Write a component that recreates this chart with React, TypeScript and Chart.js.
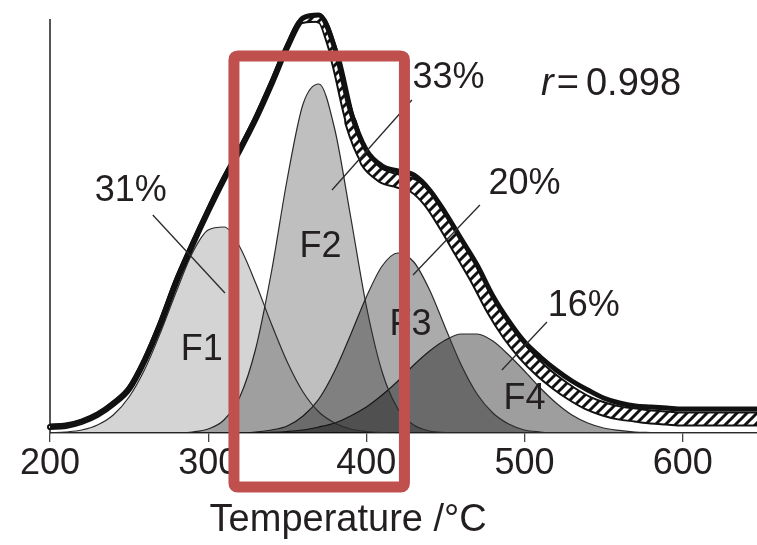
import React, { useEffect, useRef } from 'react';
import { Chart, registerables } from 'chart.js';

Chart.register(...registerables);

// Temperature grid (°C)
const TEMPS = [200, 210, 220, 230, 240, 250, 260, 270, 280, 290, 300, 310, 320, 330, 340, 350, 360, 370, 380, 390, 400, 410, 420, 430, 440, 450, 460, 470, 480, 490, 500, 510, 520, 530, 540, 550, 560, 570, 580, 590, 600, 610, 620, 630, 640, 650];

// Measured thermogram (thick solid line), arbitrary units
const MEASURED = [7, 8, 12, 19, 30, 45, 74, 111, 153, 189, 223, 255, 284, 315, 350, 387, 415, 418, 385, 322, 283, 267, 262, 258, 243, 220, 194, 168, 137, 112, 91, 76, 63, 52, 43, 35, 30, 27, 26, 25, 24, 24, 24, 24, 24, 24];

// Fitted sum (hatched band)
const FITTED = [6, 7, 11, 18, 29, 44, 73, 110, 152, 188, 222, 254, 283, 314, 349, 386, 413, 414, 377, 311, 272, 257, 252, 247, 232, 208, 181, 154, 124, 99, 79, 63, 50, 39, 30, 24, 20, 18, 16, 15, 14, 14, 14, 14, 14, 14];

// Deconvoluted fractions
const F1 = [0, 1, 3, 8, 18, 36, 64, 101, 142, 180, 203, 206, 186, 150, 109, 71, 41, 21, 10, 4, 1.5, 0.5, 0, 0, 0, 0, 0, 0, 0, 0, 0, 0, 0, 0, 0, 0, 0, 0, 0, 0, 0, 0, 0, 0, 0, 0];
const F2 = [0, 0, 0, 0, 0, 0, 0, 0, 0, 1, 4, 13, 36, 84, 161, 254, 329, 349, 304, 217, 127, 61, 24, 8, 2, 0.5, 0, 0, 0, 0, 0, 0, 0, 0, 0, 0, 0, 0, 0, 0, 0, 0, 0, 0, 0, 0];
const F3 = [0, 0, 0, 0, 0, 0, 0, 0, 0, 0, 0, 0, 0, 1, 3, 7, 17, 34, 62, 98, 136, 167, 180, 171, 143, 105, 68, 39, 20, 9, 3, 1, 0, 0, 0, 0, 0, 0, 0, 0, 0, 0, 0, 0, 0, 0];
const F4 = [0, 0, 0, 0, 0, 0, 0, 0, 0, 0, 0, 0, 0, 0.3, 0.7, 1.5, 3, 6, 10, 17, 26, 38, 52, 68, 82, 93, 99, 99, 92, 78, 62, 45, 30, 18, 10, 5, 2.6, 1, 0.5, 0, 0, 0, 0, 0, 0, 0];

const X_TICKS = [200, 300, 400, 500, 600];
const FRACTION_NAMES = ['F1', 'F2', 'F3', 'F4'];
const FRACTION_SHARES = ['31%', '33%', '20%', '16%'];
const R_VALUE = '0.998';
const X_TITLE = 'Temperature /°C';

// annotation anchors in data coordinates (T, intensity)
const NAME_POS = [[296, 83], [371, 186], [428, 108], [500, 34]];
const SHARE_POS = [[251, 242], [452, 355], [500, 249], [537.5, 127]];
const LEADERS = [[265, 218, 310.6, 140], [428.8, 333, 378.3, 243], [471.8, 228, 429.5, 158], [514.2, 111, 485.7, 63]];
const R_POS = [510.5, 338];
const TITLE_T = 388.5;
const HIGHLIGHT = [316.3, 424.1, 377, -54];

const FONT = '"Liberation Sans", Arial, Helvetica, sans-serif';
const TEXT = '#231f20';

function toPoints(vals: number[]) {
  return TEMPS.map((t, i) => ({ x: t, y: vals[i] }));
}

function makeHatch(): CanvasPattern | string {
  const c = document.createElement('canvas');
  c.width = 10;
  c.height = 10;
  const g = c.getContext('2d');
  if (!g) return '#fff';
  g.fillStyle = '#fff';
  g.fillRect(0, 0, 10, 10);
  g.strokeStyle = '#111';
  g.lineWidth = 3;
  g.beginPath();
  g.moveTo(-5, 5); g.lineTo(5, -5);
  g.moveTo(0, 10); g.lineTo(10, 0);
  g.moveTo(5, 15); g.lineTo(15, 5);
  g.stroke();
  const p = g.createPattern(c, 'repeat');
  return p || '#fff';
}

function bandWidth(t: number, extra: number) {
  const w = 6 + Math.max(0, Math.min(9, (t - 350) / 6));
  return Math.max(1, w - extra);
}

const annotationPlugin = {
  id: 'annotations',
  afterDatasetsDraw(chart: any) {
    const { ctx, scales } = chart;
    const xs = scales.x, ys = scales.y;
    const px = (t: number) => xs.getPixelForValue(t);
    const py = (v: number) => ys.getPixelForValue(v);
    ctx.save();
    // leader lines
    ctx.strokeStyle = '#2a2a2a';
    ctx.lineWidth = 1.3;
    LEADERS.forEach(([t0, v0, t1, v1]) => {
      ctx.beginPath();
      ctx.moveTo(px(t0), py(v0));
      ctx.lineTo(px(t1), py(v1));
      ctx.stroke();
    });
    ctx.fillStyle = TEXT;
    ctx.textAlign = 'center';
    ctx.textBaseline = 'middle';
    ctx.font = `36px ${FONT}`;
    FRACTION_NAMES.forEach((s, i) => {
      ctx.fillText(s, px(NAME_POS[i][0]), py(NAME_POS[i][1]));
    });
    FRACTION_SHARES.forEach((s, i) => {
      ctx.fillText(s, px(SHARE_POS[i][0]), py(SHARE_POS[i][1]));
    });
    // r = value
    ctx.textAlign = 'left';
    ctx.textBaseline = 'alphabetic';
    let x = px(R_POS[0]);
    const y = py(R_POS[1]);
    ctx.font = `italic 38px ${FONT}`;
    ctx.fillText('r', x, y);
    x += ctx.measureText('r').width + 3;
    ctx.font = `38px ${FONT}`;
    ctx.fillText('=', x, y);
    x += ctx.measureText('=').width + 7;
    ctx.fillText(R_VALUE, x, y);
    // axis title
    ctx.textAlign = 'center';
    ctx.textBaseline = 'middle';
    ctx.font = `38px ${FONT}`;
    ctx.fillText(X_TITLE, px(TITLE_T), xs.bottom - 24);
    ctx.restore();
  },
  afterDraw(chart: any) {
    const { ctx, scales } = chart;
    const xs = scales.x, ys = scales.y;
    const l = xs.getPixelForValue(HIGHLIGHT[0]);
    const r = xs.getPixelForValue(HIGHLIGHT[1]);
    const t = ys.getPixelForValue(HIGHLIGHT[2]);
    const b = ys.getPixelForValue(HIGHLIGHT[3]);
    ctx.save();
    ctx.strokeStyle = '#c0504d';
    ctx.lineWidth = 11;
    ctx.lineJoin = 'round';
    ctx.beginPath();
    const rad = 4;
    ctx.moveTo(l + rad, t);
    ctx.lineTo(r - rad, t);
    ctx.quadraticCurveTo(r, t, r, t + rad);
    ctx.lineTo(r, b - rad);
    ctx.quadraticCurveTo(r, b, r - rad, b);
    ctx.lineTo(l + rad, b);
    ctx.quadraticCurveTo(l, b, l, b - rad);
    ctx.lineTo(l, t + rad);
    ctx.quadraticCurveTo(l, t, l + rad, t);
    ctx.closePath();
    ctx.stroke();
    ctx.restore();
  },
};

export default function App() {
  const ref = useRef<HTMLCanvasElement | null>(null);

  useEffect(() => {
    if (!ref.current) return;
    const hatch = makeHatch();
    const peak = (label: string, vals: number[], alpha: number) => ({
      label,
      data: toPoints(vals),
      fill: 'origin',
      backgroundColor: `rgba(0,0,0,${alpha})`,
      borderColor: '#2b2b2b',
      borderWidth: 1.2,
      pointRadius: 0,
      cubicInterpolationMode: 'monotone',
    });
    const chart = new Chart(ref.current, {
      type: 'line',
      data: {
        datasets: [
          {
            label: 'Measured',
            data: toPoints(MEASURED),
            borderColor: '#111',
            borderWidth: 5,
            pointRadius: 0,
            fill: false,
            clip: false,
            cubicInterpolationMode: 'monotone',
          },
          {
            label: 'Fitted',
            data: toPoints(FITTED),
            borderColor: hatch,
            borderWidth: 11,
            borderCapStyle: 'round',
            segment: { borderWidth: (c: any) => bandWidth(TEMPS[c.p0DataIndex], 4) },
            pointRadius: 0,
            fill: false,
            clip: false,
            cubicInterpolationMode: 'monotone',
          },
          {
            label: 'Fitted outline',
            data: toPoints(FITTED),
            borderColor: '#111',
            borderWidth: 15,
            borderCapStyle: 'round',
            segment: { borderWidth: (c: any) => bandWidth(TEMPS[c.p0DataIndex], 0) },
            pointRadius: 0,
            fill: false,
            clip: false,
            cubicInterpolationMode: 'monotone',
          },
          peak('F1', F1, 0.17),
          peak('F2', F2, 0.25),
          peak('F3', F3, 0.33),
          peak('F4', F4, 0.38),
        ] as any,
      },
      options: {
        animation: false,
        responsive: false,
        events: [],
        layout: { padding: { top: 20, left: 0, right: 0, bottom: 0 } },
        plugins: { legend: { display: false }, tooltip: { enabled: false } },
        scales: {
          x: {
            type: 'linear',
            min: 200,
            max: 647,
            afterFit: (s: any) => { s.height = 112; },
            afterBuildTicks: (s: any) => { s.ticks = X_TICKS.map((v) => ({ value: v })); },
            ticks: {
              font: { family: FONT, size: 36 },
              color: TEXT,
              padding: 0,
              maxRotation: 0,
              autoSkip: false,
            },
            grid: { drawOnChartArea: false, drawTicks: true, tickLength: 9, color: '#444', lineWidth: 1.3 },
            border: { display: true, color: '#444', width: 1.5 },
            title: { display: false },
          },
          y: {
            min: 0,
            max: 413,
            afterFit: (s: any) => { s.width = 50; },
            ticks: { display: false },
            grid: { display: false },
            border: { display: true, color: '#555', width: 2 },
          },
        },
      },
      plugins: [annotationPlugin],
    } as any);
    return () => chart.destroy();
  }, []);

  return (
    <div style={{ position: 'fixed', left: 0, top: 0, width: 757, height: 545, background: '#fff' }}>
      <canvas ref={ref} width={757} height={545} style={{ width: 757, height: 545, display: 'block' }} />
    </div>
  );
}
